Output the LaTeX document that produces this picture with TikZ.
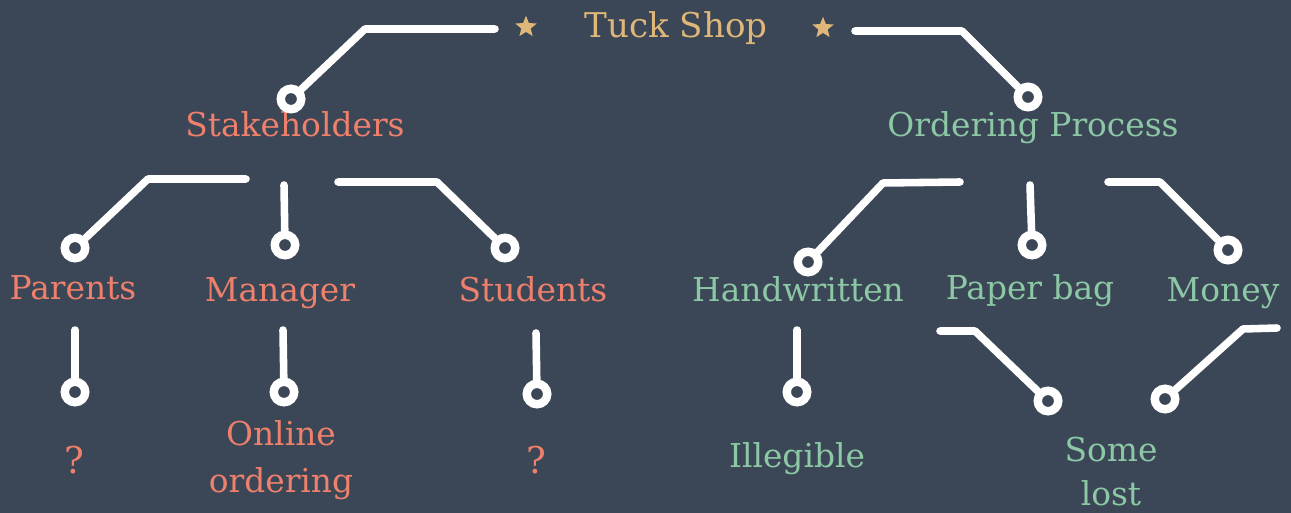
\documentclass[tikz,border=0pt]{standalone}
\usepackage{fontspec}
\setmainfont{DejaVu Serif}
\usetikzlibrary{positioning, calc, shapes.geometric}
\definecolor{SlateBg}{RGB}{59,71,86}
\definecolor{TitleGold}{RGB}{223,183,120}
\definecolor{SoftRed}{RGB}{238,128,108}
\definecolor{SoftGreen}{RGB}{140,200,165}

\tikzset{
  wire/.style={white, line width=4.3pt, line cap=round, line join=round},
  ring/.style={circle, draw=white, line width=4.8pt, inner sep=0pt, minimum size=0.41cm},
  deco/.style={star, star points=5, star point ratio=2.3, fill=TitleGold, inner sep=0pt, minimum size=0.45cm},
  lbl/.style={anchor=base, inner sep=0pt, align=center, font=\fontsize{18.7}{26.5}\selectfont},
  red lbl/.style={lbl, text=SoftRed},
  green lbl/.style={lbl, text=SoftGreen}
}

\begin{document}
\begin{tikzpicture}[x=0.02cm, y=-0.02cm]

% fondo
\fill[SlateBg] (0,0) rectangle (1291,513);
\useasboundingbox (0,0) rectangle (1291,513);

% titulo
\node[lbl, text=TitleGold, font=\fontsize{19.4}{26}\selectfont] (shop) at (676,38) {Tuck Shop};
\node[deco] (star-l) at (526,27) {};
\node[deco] (star-r) at (823,28) {};

% nivel 1
\node[red lbl] (stake) at (295,137) {Stakeholders};
\node[green lbl] (order) at (1033,137) {Ordering Process};

% nivel 2
\node[red lbl] (parents) at (73,299) {Parents};
\node[red lbl] (manager) at (280,301) {Manager};
\node[red lbl] (students) at (533,301) {Students};
\node[green lbl] (hand) at (798,301) {Handwritten};
\node[green lbl] (bag) at (1030,299) {Paper bag};
\node[green lbl] (money) at (1223,301) {Money};

% nivel 3 (el ancla base cae en la ultima linea)
\node[red lbl, font=\fontsize{21}{26}\selectfont] (pq) at (74,473) {?};
\node[red lbl] (online) at (281,492) {Online\\ordering};
\node[red lbl, font=\fontsize{21}{26}\selectfont] (sq) at (536,473) {?};
\node[green lbl] (illeg) at (797,467) {Illegible};
\node[green lbl, font=\fontsize{18.7}{25}\selectfont] (lost) at (1111,505) {Some\\lost};

% anillos
\node[ring] (r-stake) at (291,99) {};
\node[ring] (r-order) at (1028,97) {};
\node[ring] (r-parents) at (75,248) {};
\node[ring] (r-manager) at (285,245) {};
\node[ring] (r-students) at (505,248) {};
\node[ring] (r-hand) at (808,262) {};
\node[ring] (r-bag) at (1032,245) {};
\node[ring] (r-money) at (1228,250) {};
\node[ring] (r-pq) at (75,392) {};
\node[ring] (r-online) at (284,392) {};
\node[ring] (r-sq) at (537,394) {};
\node[ring] (r-illeg) at (797,392) {};
\node[ring] (r-lost1) at (1048,401) {};
\node[ring] (r-lost2) at (1165,399) {};

% cabos sueltos
\coordinate (shop-l) at (495,29);
\coordinate (shop-r) at (855,31);
\coordinate (stake-l) at (246,179);
\coordinate (stake-m) at (284,185);
\coordinate (stake-r) at (338,182);
\coordinate (order-l) at (960,182);
\coordinate (order-m) at (1030,185);
\coordinate (order-r) at (1108,182);
\coordinate (parents-d) at (75,330);
\coordinate (manager-d) at (283,330);
\coordinate (students-d) at (536,333);
\coordinate (hand-d) at (797,330);
\coordinate (bag-d) at (940,331);
\coordinate (money-d) at (1277,328);

% conectores
\draw[wire] (shop-l) -- (365,29) -- (r-stake);
\draw[wire] (shop-r) -- (962,31) -- (r-order);
\draw[wire] (stake-l) -- (148,179) -- (r-parents);
\draw[wire] (stake-m) -- (r-manager);
\draw[wire] (stake-r) -- (437,182) -- (r-students);
\draw[wire] (order-l) -- (883,183) -- (r-hand);
\draw[wire] (order-m) -- (r-bag);
\draw[wire] (order-r) -- (1160,182) -- (r-money);
\draw[wire] (parents-d) -- (r-pq);
\draw[wire] (manager-d) -- (r-online);
\draw[wire] (students-d) -- (r-sq);
\draw[wire] (hand-d) -- (r-illeg);
\draw[wire] (bag-d) -- (975,331) -- (r-lost1);
\draw[wire] (money-d) -- (1243,329) -- (r-lost2);

\end{tikzpicture}
\end{document}
